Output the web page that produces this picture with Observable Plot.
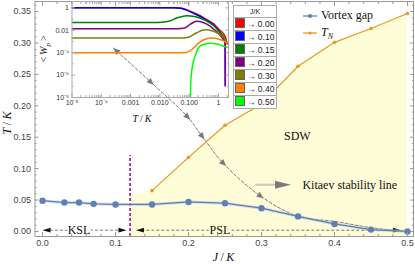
<!DOCTYPE html>
<html><head><meta charset="utf-8">
<script src="https://cdn.jsdelivr.net/npm/d3@7"></script>
<script src="https://cdn.jsdelivr.net/npm/@observablehq/plot@0.6"></script>
<style>
body{margin:0;background:#fff;}
#wrap{position:relative;width:415px;height:264px;overflow:hidden;font-family:"Liberation Sans",sans-serif;}
#wrap > svg, #wrap > div{position:absolute;}
.serif{font-family:"Liberation Serif",serif;color:#111;white-space:nowrap;}
.mleg{display:flex;align-items:center;font-size:12px;height:14px;}
#ileg{left:233px;top:5px;width:44px;border-collapse:collapse;border:1px solid #999;background:#fff;font-family:"Liberation Sans",sans-serif;}
#ileg td{border:1px solid #aaa;padding:0 1px;height:11.7px;font-size:8.5px;line-height:11px;white-space:nowrap;color:#222;}
#ileg th{border:1px solid #aaa;font-weight:normal;font-size:7px;height:11.3px;line-height:11px;padding:0;color:#222;}
.sw{display:inline-block;width:8px;height:8px;border:0.5px solid #666;vertical-align:-1px;margin-right:2px;}
</style></head><body><div id="wrap"></div>
<script>
// ---------- main chart data ----------
const J_vortex = [0.00, 0.03, 0.05, 0.07, 0.10, 0.15, 0.20, 0.25, 0.30, 0.35, 0.40, 0.45, 0.50];
const T_vortex = [0.049, 0.046, 0.046, 0.044, 0.043, 0.043, 0.047, 0.045, 0.037, 0.024, 0.012, 0.003, 0.000];
const J_TN = [0.15, 0.20, 0.25, 0.30, 0.35, 0.40, 0.45, 0.50];
const T_TN = [0.065, 0.118, 0.169, 0.203, 0.263, 0.301, 0.323, 0.347];
const J_kitaev = [0.097, 0.149, 0.199, 0.219, 0.248, 0.299, 0.35, 0.40, 0.45, 0.50];
const T_kitaev = [0.292, 0.237, 0.182, 0.151, 0.108, 0.056, 0.024, 0.016, 0.006, 0.000];
const kitaevMarkerIdx = [0, 1, 2, 3, 4, 5];
const J_boundary = 0.12, T_boundaryTop = 0.121, T_sdwEdge = 0.057;
const xTicks = [0, 0.1, 0.2, 0.3, 0.4, 0.5];
const yTicks = [0, 0.05, 0.10, 0.15, 0.20, 0.25, 0.30, 0.35];
const xMinor = d3.range(0, 26).map(i => i * 0.02).filter(v => Math.abs(v * 10 - Math.round(v * 10)) > 1e-6);
const yMinor = d3.range(0, 37).map(i => i * 0.01).filter(v => Math.abs(v * 20 - Math.round(v * 20)) > 1e-6);
const xDomain = [-0.0103, 0.5082], yDomain = [-0.008, 0.366];

// ---------- inset data (log-log) ----------
const insetLabels = ["0.00", "0.10", "0.15", "0.20", "0.30", "0.40", "0.50"];
const insetColors = ["#ff0000", "#0000ff", "#008000", "#800080", "#808000", "#ff8000", "#00ff00"];
const T_j000 = [1e-5, 0.03, 0.05, 0.08, 0.12, 0.24, 0.4, 0.69, 1.0, 1.5, 1.8, 2.0];
const W_j000 = [1, 1, 0.95, 0.7, 0.45, 0.2, 0.09, 0.037, 0.013, 0.0047, 0.0018, 0.0006];
const T_j010 = [1e-5, 0.03, 0.05, 0.08, 0.12, 0.24, 0.4, 0.69, 1.0, 1.4, 1.70, 1.72];
const W_j010 = [1, 1, 0.92, 0.65, 0.4, 0.17, 0.075, 0.03, 0.01, 0.003, 0.0012, 1.1e-7];
const T_j015 = [1e-5, 0.008, 0.02, 0.04, 0.08, 0.15, 0.24, 0.4, 0.69, 1.0, 1.5, 2.0];
const W_j015 = [0.05, 0.05, 0.065, 0.13, 0.2, 0.17, 0.12, 0.065, 0.025, 0.009, 0.0025, 0.0008];
const T_j020 = [1e-5, 0.04, 0.07, 0.11, 0.18, 0.3, 0.5, 0.8, 1.1, 1.4, 1.68, 1.70];
const W_j020 = [0.014, 0.014, 0.016, 0.035, 0.064, 0.05, 0.025, 0.009, 0.004, 0.0018, 0.0009, 1.1e-7];
const T_j030 = [1e-5, 0.06, 0.1, 0.18, 0.35, 0.6, 1.0, 1.4, 1.8, 2.0];
const W_j030 = [0.002, 0.002, 0.0025, 0.006, 0.011, 0.009, 0.005, 0.0025, 0.0012, 0.0008];
const T_j040 = [1e-5, 0.07, 0.1, 0.15, 0.22, 0.35, 0.6, 1.0, 1.5, 2.0];
const W_j040 = [1e-4, 1e-4, 1.3e-4, 3e-4, 8e-4, 0.0016, 0.002, 0.0017, 0.0011, 0.0008];
const T_j050 = [0.11, 0.112, 0.12, 0.14, 0.17, 0.24, 0.35, 0.53, 0.9, 1.4, 2.0];
const W_j050 = [1e-8, 1e-7, 1.5e-6, 1.5e-5, 8e-5, 4e-4, 6e-4, 7e-4, 6e-4, 4e-4, 3e-4];
const insetT = [T_j000, T_j010, T_j015, T_j020, T_j030, T_j040, T_j050];
const insetW = [W_j000, W_j010, W_j015, W_j020, W_j030, W_j040, W_j050];
const inXTicks = [1e-5, 1e-4, 1e-3, 1e-2, 1e-1, 1];
const inXLabels = ["10⁻⁵", "10⁻⁴", "0.001", "0.010", "0.100", "1"];
const inYTicks = [1e-8, 1e-6, 1e-4, 1e-2, 1];
const inYLabels = ["10⁻⁸", "10⁻⁶", "10⁻⁴", "0.01", "1"];
const inXMinor = [-5, -4, -3, -2, -1, 0].flatMap(e => [2,3,4,5,6,7,8,9].map(m => m * Math.pow(10, e))).filter(v => v < 2.2);
const inYMinor = [1e-7, 1e-5, 1e-3, 1e-1];

// ---------- legends ----------
const mainLegend = [
  {html: "Vortex gap", color: "#5e81b5", r: 2},
  {html: "<i>T</i><sub style='font-size:8px;font-style:italic'>N</sub>", color: "#e19c24", r: 1.6}
];

const BLUE = "#5e81b5", ORANGE = "#e19c24", GRAY = "#7a7a7a", FILL = "#fffcd8", FRAME = "#999";
const vortex = J_vortex.map((j, i) => ({J: j, T: T_vortex[i]}));
const tn = J_TN.map((j, i) => ({J: j, T: T_TN[i]}));
const kitaev = J_kitaev.map((j, i) => ({J: j, T: T_kitaev[i]}));
const sdw = [{J: J_boundary, T: T_sdwEdge}, ...tn];

const tri = {draw(ctx, l, r) { ctx.moveTo(-r, 0); ctx.lineTo(0, -l); ctx.lineTo(r, 0); ctx.closePath(); }};

function makeMain(extra) {
  const tickAxis = (fn, ticks, anchor, size) => fn(ticks, {anchor, tickSize: size, fill: "none", stroke: FRAME, label: null});
  return Plot.plot({
    width: 415, height: 264,
    marginLeft: 34.5, marginRight: 2, marginTop: 1, marginBottom: 28,
    x: {domain: xDomain}, y: {domain: yDomain},
    style: {background: "transparent", fontFamily: "Liberation Sans, sans-serif"},
    marks: [
      Plot.areaY(sdw, {x: "J", y1: yDomain[0], y2: "T", fill: FILL}),
      Plot.ruleX([J_boundary], {y1: yDomain[0], y2: T_boundaryTop, stroke: "#9a2d96", strokeWidth: 1.8, strokeDasharray: "3,2"}),
      Plot.ruleY([0.002], {x1: 0.004, x2: 0.108, stroke: "#555", strokeWidth: 0.8, strokeDasharray: "3,2"}),
      Plot.ruleY([0.002], {x1: 0.136, x2: 0.482, stroke: "#555", strokeWidth: 0.8, strokeDasharray: "3,2"}),
      Plot.vector([{J: 0, r: 270}, {J: 0.115, r: 90}, {J: 0.128, r: 270}, {J: 0.491, r: 90}],
        {x: "J", y: () => 0.002, rotate: "r", length: 8, r: 2.4, shape: tri, anchor: "end", fill: "#111", stroke: "none"}),
      Plot.text(["KSL"], {x: 0.05, y: 0.002, fontSize: 12, fontFamily: "Liberation Serif, serif", fill: "#111", stroke: "white", strokeWidth: 4}),
      Plot.text(["PSL"], {x: 0.243, y: 0.002, fontSize: 12, fontFamily: "Liberation Serif, serif", fill: "#111", stroke: FILL, strokeWidth: 4}),
      Plot.line(kitaev, {x: "J", y: "T", stroke: GRAY, strokeWidth: 1, strokeDasharray: "3,2", curve: "catmull-rom"}),
      ...extra,
      Plot.line(vortex, {x: "J", y: "T", stroke: "#a9bde0", strokeWidth: 3, strokeOpacity: 0.5}),
      Plot.line(vortex, {x: "J", y: "T", stroke: BLUE, strokeWidth: 1.3}),
      Plot.dot(vortex, {x: "J", y: "T", r: 3.2, fill: BLUE}),
      Plot.line(tn, {x: "J", y: "T", stroke: ORANGE, strokeWidth: 1.2}),
      Plot.dot(tn, {x: "J", y: "T", r: 1.8, fill: ORANGE}),
      Plot.text(["SDW"], {x: 0.349, y: 0.151, fontSize: 12, fontFamily: "Liberation Serif, serif", fill: "#111"}),
      Plot.ruleY([0.0744], {x1: 0.292, x2: 0.324, stroke: "#c8c8c8", strokeWidth: 2}),
      Plot.vector([{J: 0.3405}], {x: "J", y: () => 0.0744, rotate: 90, length: 16, r: 4, shape: tri, anchor: "end", fill: GRAY, stroke: "none"}),
      Plot.text(["Kitaev stability line"], {x: 0.356, y: 0.0744, textAnchor: "start", fontSize: 12, fontFamily: "Liberation Serif, serif", fill: "#111"}),
      Plot.frame({stroke: FRAME}),
      Plot.axisX(xTicks, {anchor: "bottom", tickSize: 0, tickPadding: 3, tickFormat: d3.format(".1f"), fontSize: 9, fill: "#444", label: null}),
      Plot.axisY(yTicks, {anchor: "left", tickSize: 0, tickPadding: 4, tickFormat: d3.format(".2f"), fontSize: 9, fill: "#444", label: null}),
      tickAxis(Plot.axisX, xTicks, "bottom", -4), tickAxis(Plot.axisX, xMinor, "bottom", -2),
      tickAxis(Plot.axisX, xTicks, "top", -4), tickAxis(Plot.axisX, xMinor, "top", -2),
      tickAxis(Plot.axisY, yTicks, "left", -4), tickAxis(Plot.axisY, yMinor, "left", -2),
      tickAxis(Plot.axisY, yTicks, "right", -4), tickAxis(Plot.axisY, yMinor, "right", -2)
    ]
  });
}

const base = makeMain([]);
const sx = base.scale("x"), sy = base.scale("y");
const px = J_kitaev.map(v => sx.apply(v)), py = T_kitaev.map(v => sy.apply(v));
const kMarks = kitaevMarkerIdx.map(i => {
  let dx, dy;
  if (i === 0) { dx = px[0] - px[1]; dy = py[0] - py[1]; }
  else { dx = px[i + 1] - px[i - 1]; dy = py[i + 1] - py[i - 1]; }
  return {J: J_kitaev[i], T: T_kitaev[i], rot: Math.atan2(dx, -dy) * 180 / Math.PI, anchor: i === 0 ? "end" : "middle"};
});
const main = makeMain([
  Plot.vector(kMarks.filter(d => d.anchor === "end"), {x: "J", y: "T", rotate: "rot", length: 7, r: 3, shape: tri, anchor: "end", fill: GRAY, stroke: "none"}),
  Plot.vector(kMarks.filter(d => d.anchor === "middle"), {x: "J", y: "T", rotate: "rot", length: 7, r: 3, shape: tri, anchor: "middle", fill: GRAY, stroke: "none"})
]);
main.style.left = "0px"; main.style.top = "0px";
const wrap = document.getElementById("wrap");
wrap.appendChild(main);

// ---------- inset ----------
const insetRows = insetLabels.map((k, i) => insetT[i].map((t, j) => ({T: t, W: insetW[i][j]})));
const IF = "#aaa";
const inTick = (fn, ticks, anchor, size) => fn(ticks, {anchor, tickSize: size, fill: "none", stroke: IF, label: null});
const inset = Plot.plot({
  width: 190, height: 125,
  marginLeft: 31.5, marginRight: 2, marginTop: 1, marginBottom: 28,
  x: {type: "log", domain: [1e-5, 2.2]},
  y: {type: "log", domain: [1e-8, 3.7]},
  style: {background: "transparent", fontFamily: "Liberation Sans, sans-serif"},
  marks: [
    ...insetRows.map((rows, i) => Plot.line(rows, {x: "T", y: "W", stroke: insetColors[i], strokeWidth: 1.5, curve: "monotone-x", clip: true})),
    Plot.frame({stroke: IF}),
    Plot.axisX(inXTicks, {anchor: "bottom", tickSize: 0, tickPadding: 3, tickFormat: d => inXLabels[inXTicks.indexOf(d)], fontSize: 7, fill: "#333", label: null}),
    Plot.axisY(inYTicks, {anchor: "left", tickSize: 0, tickPadding: 3, tickFormat: d => inYLabels[inYTicks.indexOf(d)], fontSize: 7, fill: "#333", label: null}),
    inTick(Plot.axisX, inXTicks, "bottom", -3.5), inTick(Plot.axisX, inXMinor, "bottom", -2),
    inTick(Plot.axisX, inXTicks, "top", -3.5), inTick(Plot.axisX, inXMinor, "top", -2),
    inTick(Plot.axisY, inYTicks, "left", -3.5), inTick(Plot.axisY, inYMinor, "left", -2),
    inTick(Plot.axisY, inYTicks, "right", -3.5), inTick(Plot.axisY, inYMinor, "right", -2)
  ]
});
inset.style.left = "40px"; inset.style.top = "0px";
wrap.appendChild(inset);

// ---------- text labels & legends ----------
function addDiv(html, css, cls) {
  const d = document.createElement("div");
  d.innerHTML = html; d.className = cls || ""; d.style.cssText += css;
  wrap.appendChild(d); return d;
}
addDiv("<i>J</i>&#8201;/&#8201;<i>K</i>", "left:223.5px;top:257px;transform:translate(-50%,-50%);font-size:12px;", "serif");
addDiv("<i>T</i>&#8201;/&#8201;<i>K</i>", "left:7px;top:123px;transform:translate(-50%,-50%) rotate(-90deg);font-size:12px;", "serif");
addDiv("<i>T</i>&#8201;/&#8201;<i>K</i>", "left:142px;top:118px;transform:translate(-50%,-50%);font-size:10px;", "serif");
addDiv("&lt;&#8201;<i>W</i><sub style='font-size:7px;font-style:italic'>p</sub>&#8201;&gt;", "left:45px;top:49px;transform:translate(-50%,-50%) rotate(-90deg);font-size:10px;", "serif");

mainLegend.forEach((e, i) => {
  addDiv(`<svg width="19" height="14" style="position:static"><line x1="2" x2="16" y1="7" y2="7" stroke="${e.color}" stroke-width="1.3"/><circle cx="9" cy="7" r="${e.r}" fill="${e.color}"/></svg><span style="margin-left:1px">${e.html}</span>`,
    `left:301px;top:${8.7 + i * 17.6}px;`, "serif mleg");
});

const tbl = document.createElement("table");
tbl.id = "ileg";
tbl.innerHTML = `<tr><th>J/K</th></tr>` + insetLabels.map((l, i) =>
  `<tr><td><span class="sw" style="background:${insetColors[i]}"></span>→ ${l}</td></tr>`).join("");
tbl.style.position = "absolute";
wrap.appendChild(tbl);
</script>
</body></html>
